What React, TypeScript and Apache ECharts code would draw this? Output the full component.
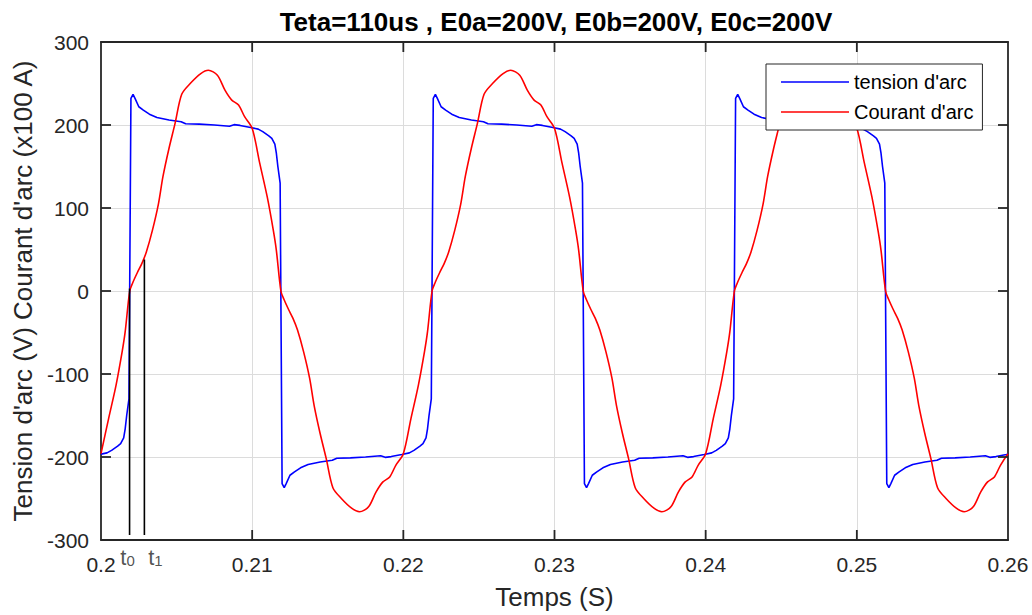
import React, { useEffect, useRef } from "react";
import * as echarts from "echarts";

// ---- data ----
const tensionArc: [number, number][] = [
  [0.2, -196.5], [0.2004, -195], [0.2007, -192], [0.2011, -187], [0.2013, -184], [0.2015, -177], [0.2016, -166], [0.2017, -150], [0.20185, -130],
  [0.20198, 232], [0.20212, 237], [0.20225, 232], [0.2025, 222], [0.2028, 218], [0.2032, 213], [0.2037, 209], [0.2045, 206], [0.2053, 204], [0.2056, 201.5], [0.2065, 201], [0.2075, 200], [0.2085, 198.4], [0.2088, 200.4], [0.2092, 199.5], [0.2099, 197], [0.2104, 195], [0.2107, 192], [0.2111, 187], [0.2113, 184], [0.2115, 177], [0.2116, 166], [0.2117, 150], [0.21185, 130],
  [0.21198, -232], [0.21212, -237], [0.21225, -232], [0.2125, -222], [0.2128, -218], [0.2132, -213], [0.2137, -209], [0.2145, -206], [0.2153, -204], [0.2156, -201.5], [0.2165, -201], [0.2175, -200], [0.2185, -198.4], [0.2188, -200.4], [0.2192, -199.5], [0.2199, -197], [0.2204, -195], [0.2207, -192], [0.2211, -187], [0.2213, -184], [0.2215, -177], [0.2216, -166], [0.2217, -150], [0.22185, -130],
  [0.22198, 232], [0.22212, 237], [0.22225, 232], [0.2225, 222], [0.2228, 218], [0.2232, 213], [0.2237, 209], [0.2245, 206], [0.2253, 204], [0.2256, 201.5], [0.2265, 201], [0.2275, 200], [0.2285, 198.4], [0.2288, 200.4], [0.2292, 199.5], [0.2299, 197], [0.2304, 195], [0.2307, 192], [0.2311, 187], [0.2313, 184], [0.2315, 177], [0.2316, 166], [0.2317, 150], [0.23185, 130],
  [0.23198, -232], [0.23212, -237], [0.23225, -232], [0.2325, -222], [0.2328, -218], [0.2332, -213], [0.2337, -209], [0.2345, -206], [0.2353, -204], [0.2356, -201.5], [0.2365, -201], [0.2375, -200], [0.2385, -198.4], [0.2388, -200.4], [0.2392, -199.5], [0.2399, -197], [0.2404, -195], [0.2407, -192], [0.2411, -187], [0.2413, -184], [0.2415, -177], [0.2416, -166], [0.2417, -150], [0.24185, -130],
  [0.24198, 232], [0.24212, 237], [0.24225, 232], [0.2425, 222], [0.2428, 218], [0.2432, 213], [0.2437, 209], [0.2445, 206], [0.2453, 204], [0.2456, 201.5], [0.2465, 201], [0.2475, 200], [0.2485, 198.4], [0.2488, 200.4], [0.2492, 199.5], [0.2499, 197], [0.2504, 195], [0.2507, 192], [0.2511, 187], [0.2513, 184], [0.2515, 177], [0.2516, 166], [0.2517, 150], [0.25185, 130],
  [0.25198, -232], [0.25212, -237], [0.25225, -232], [0.2525, -222], [0.2528, -218], [0.2532, -213], [0.2537, -209], [0.2545, -206], [0.2553, -204], [0.2556, -201.5], [0.2565, -201], [0.2575, -200], [0.2585, -198.4], [0.2588, -200.4], [0.2592, -199.5], [0.2599, -197], [0.26, -196.5],
];

const courantArc: [number, number][] = [
  [0.2, -196], [0.2005, -154], [0.201, -113], [0.2014, -73], [0.2016, -49],
  [0.2019, 0], [0.2021, 10], [0.2024, 22], [0.2027, 33], [0.203, 47], [0.2034, 73], [0.2038, 105], [0.2041, 138], [0.2045, 172], [0.2049, 202], [0.20534, 237], [0.2059, 250], [0.2066, 262], [0.2071, 266], [0.2077, 260], [0.2082, 242], [0.20865, 230], [0.2091, 224], [0.2095, 210], [0.21, 196], [0.2105, 154], [0.211, 113], [0.2114, 73], [0.2116, 49],
  [0.2119, 0], [0.2121, -10], [0.2124, -22], [0.2127, -33], [0.213, -47], [0.2134, -73], [0.2138, -105], [0.2141, -138], [0.2145, -172], [0.2149, -202], [0.21534, -237], [0.2159, -250], [0.2166, -262], [0.2171, -266], [0.2177, -260], [0.2182, -242], [0.21865, -230], [0.2191, -224], [0.2195, -210], [0.22, -196], [0.2205, -154], [0.221, -113], [0.2214, -73], [0.2216, -49],
  [0.2219, 0], [0.2221, 10], [0.2224, 22], [0.2227, 33], [0.223, 47], [0.2234, 73], [0.2238, 105], [0.2241, 138], [0.2245, 172], [0.2249, 202], [0.22534, 237], [0.2259, 250], [0.2266, 262], [0.2271, 266], [0.2277, 260], [0.2282, 242], [0.22865, 230], [0.2291, 224], [0.2295, 210], [0.23, 196], [0.2305, 154], [0.231, 113], [0.2314, 73], [0.2316, 49],
  [0.2319, 0], [0.2321, -10], [0.2324, -22], [0.2327, -33], [0.233, -47], [0.2334, -73], [0.2338, -105], [0.2341, -138], [0.2345, -172], [0.2349, -202], [0.23534, -237], [0.2359, -250], [0.2366, -262], [0.2371, -266], [0.2377, -260], [0.2382, -242], [0.23865, -230], [0.2391, -224], [0.2395, -210], [0.24, -196], [0.2405, -154], [0.241, -113], [0.2414, -73], [0.2416, -49],
  [0.2419, 0], [0.2421, 10], [0.2424, 22], [0.2427, 33], [0.243, 47], [0.2434, 73], [0.2438, 105], [0.2441, 138], [0.2445, 172], [0.2449, 202], [0.24534, 237], [0.2459, 250], [0.2466, 262], [0.2471, 266], [0.2477, 260], [0.2482, 242], [0.24865, 230], [0.2491, 224], [0.2495, 210], [0.25, 196], [0.2505, 154], [0.251, 113], [0.2514, 73], [0.2516, 49],
  [0.2519, 0], [0.2521, -10], [0.2524, -22], [0.2527, -33], [0.253, -47], [0.2534, -73], [0.2538, -105], [0.2541, -138], [0.2545, -172], [0.2549, -202], [0.25534, -237], [0.2559, -250], [0.2566, -262], [0.2571, -266], [0.2577, -260], [0.2582, -242], [0.25865, -230], [0.2591, -224], [0.2595, -210], [0.26, -196],
];

const markerTimes = [0.20189, 0.20287];
const markerTops = [3, 38];
const markerBottom = -294;
const markerSubs = ["0", "1"];

const xTickValues = [0.21, 0.22, 0.23, 0.24, 0.25];
const yTickValues = [-200, -100, 0, 100, 200];

const seriesNames = ["tension d'arc", "Courant d'arc"];
const titleText = "Teta=110us , E0a=200V, E0b=200V, E0c=200V";
const xName = "Temps (S)";
const yName = "Tension d'arc (V) Courant d'arc (x100 A)";

const FONT = "'Liberation Sans', Arial, Helvetica, sans-serif";
const TXT = "#262626";
const TICK_LEN = 10;

export default function App() {
  const ref = useRef<HTMLDivElement>(null);
  useEffect(() => {
    if (!ref.current) return;
    const chart = echarts.init(ref.current, undefined, { renderer: "svg" });
    const X_MIN = 0.2, X_MAX = 0.26, Y_MIN = -300, Y_MAX = 300;
    const xBase = { type: "value", min: X_MIN, max: X_MAX, interval: 0.01 };
    const yBase = { type: "value", min: Y_MIN, max: Y_MAX, interval: 100 };
    const frame = { show: true, onZero: false, lineStyle: { color: TXT, width: 1.8 } };
    const split = { show: true, showMinLine: false, showMaxLine: false, lineStyle: { color: "#dcdcdc", width: 1 } };
    const markerSeries = markerTimes.map((t, i) => ({
      name: "marker" + i,
      type: "line",
      symbol: "none",
      silent: true,
      lineStyle: { color: "#000", width: 1.6 },
      data: [[t, markerBottom], [t, markerTops[i]]],
    }));
    const markerLabels = {
      name: "markerLabels",
      type: "scatter",
      silent: true,
      symbol: "circle",
      symbolSize: 0.01,
      itemStyle: { color: "rgba(0,0,0,0)" },
      data: markerTimes.map((t, i) => ({
        value: [t, markerBottom],
        label: {
          show: true,
          position: "bottom",
          distance: 11,
          offset: [i === 0 ? -2 : 11, 0],
          formatter: "{t|t}{s|" + markerSubs[i] + "}",
          rich: {
            t: { fontSize: 22, fontFamily: FONT, color: TXT, verticalAlign: "bottom", lineHeight: 22 },
            s: { fontSize: 15, fontFamily: FONT, color: TXT, verticalAlign: "bottom", lineHeight: 22 },
          },
        },
      })),
    };
    // inside ticks on all four sides (MATLAB box), positioned through the axes' scales
    const xTickSeries = {
      name: "xTicks",
      type: "custom",
      silent: true,
      z: 8,
      clip: false,
      encode: { x: 0, y: 1 },
      data: xTickValues.map((v) => [v, 0]),
      renderItem: (_p: any, api: any) => {
        const v = api.value(0);
        const b = api.coord([v, Y_MIN]);
        const t = api.coord([v, Y_MAX]);
        return {
          type: "group",
          children: [
            { type: "line", shape: { x1: b[0], y1: b[1], x2: b[0], y2: b[1] - TICK_LEN }, style: { stroke: TXT, lineWidth: 1.8 } },
            { type: "line", shape: { x1: t[0], y1: t[1], x2: t[0], y2: t[1] + TICK_LEN }, style: { stroke: TXT, lineWidth: 1.8 } },
          ],
        };
      },
    };
    const yTickSeries = {
      name: "yTicks",
      type: "custom",
      silent: true,
      z: 8,
      clip: false,
      encode: { x: 0, y: 1 },
      data: yTickValues.map((v) => [X_MIN, v]),
      renderItem: (_p: any, api: any) => {
        const v = api.value(1);
        const l = api.coord([X_MIN, v]);
        const r = api.coord([X_MAX, v]);
        return {
          type: "group",
          children: [
            { type: "line", shape: { x1: l[0], y1: l[1], x2: l[0] + TICK_LEN, y2: l[1] }, style: { stroke: TXT, lineWidth: 1.8 } },
            { type: "line", shape: { x1: r[0], y1: r[1], x2: r[0] - TICK_LEN, y2: r[1] }, style: { stroke: TXT, lineWidth: 1.8 } },
          ],
        };
      },
    };
    chart.setOption({
      animation: false,
      backgroundColor: "#fff",
      textStyle: { fontFamily: FONT },
      grid: { left: 101, right: 24, top: 42, bottom: 75, show: false },
      graphic: [
        {
          type: "text", x: 556, y: 9, z: 10,
          style: { text: titleText, font: "bold 26px " + FONT, fill: "#000", textAlign: "center", textVerticalAlign: "top" },
        },
      ],
      legend: {
        data: seriesNames,
        z: 20,
        orient: "vertical",
        left: 766, top: 64,
        padding: [8, 9, 8, 15],
        icon: "rect",
        itemWidth: 68, itemHeight: 1.6, itemGap: 10,
        backgroundColor: "#fff",
        borderColor: TXT, borderWidth: 1,
        textStyle: { fontSize: 20, lineHeight: 20, color: "#000", fontFamily: FONT },
      },
      xAxis: [
        {
          ...xBase, position: "bottom",
          axisLine: frame, axisTick: { show: false }, splitLine: split,
          axisLabel: { fontSize: 21, color: TXT, margin: 14, fontFamily: FONT, formatter: (v: number) => String(Math.round(v * 100) / 100) },
          name: xName, nameLocation: "middle", nameGap: 44,
          nameTextStyle: { fontSize: 26, color: TXT, fontFamily: FONT },
        },
        {
          ...xBase, position: "top",
          axisLine: frame, axisTick: { show: false }, axisLabel: { show: false }, splitLine: { show: false },
        },
      ],
      yAxis: [
        {
          ...yBase, position: "left",
          axisLine: frame, axisTick: { show: false }, splitLine: split,
          axisLabel: { fontSize: 21, color: TXT, margin: 12, fontFamily: FONT },
          name: yName, nameLocation: "middle", nameGap: 60, nameRotate: 90,
          nameTextStyle: { fontSize: 26, color: TXT, fontFamily: FONT },
        },
        {
          ...yBase, position: "right",
          axisLine: frame, axisTick: { show: false }, axisLabel: { show: false }, splitLine: { show: false },
        },
      ],
      series: [
        {
          name: seriesNames[0], type: "line", data: tensionArc, symbol: "none",
          lineStyle: { color: "#0000ff", width: 1.6 }, itemStyle: { color: "#0000ff" }, z: 3,
        },
        {
          name: seriesNames[1], type: "line", data: courantArc, symbol: "none", smooth: 0.3,
          lineStyle: { color: "#ff0000", width: 1.6 }, itemStyle: { color: "#ff0000" }, z: 3,
        },
        ...markerSeries,
        markerLabels,
        xTickSeries,
        yTickSeries,
      ],
    } as any);
    return () => chart.dispose();
  }, []);
  return <div ref={ref} style={{ position: "fixed", left: 0, top: 0, width: 1032, height: 615 }} />;
}
